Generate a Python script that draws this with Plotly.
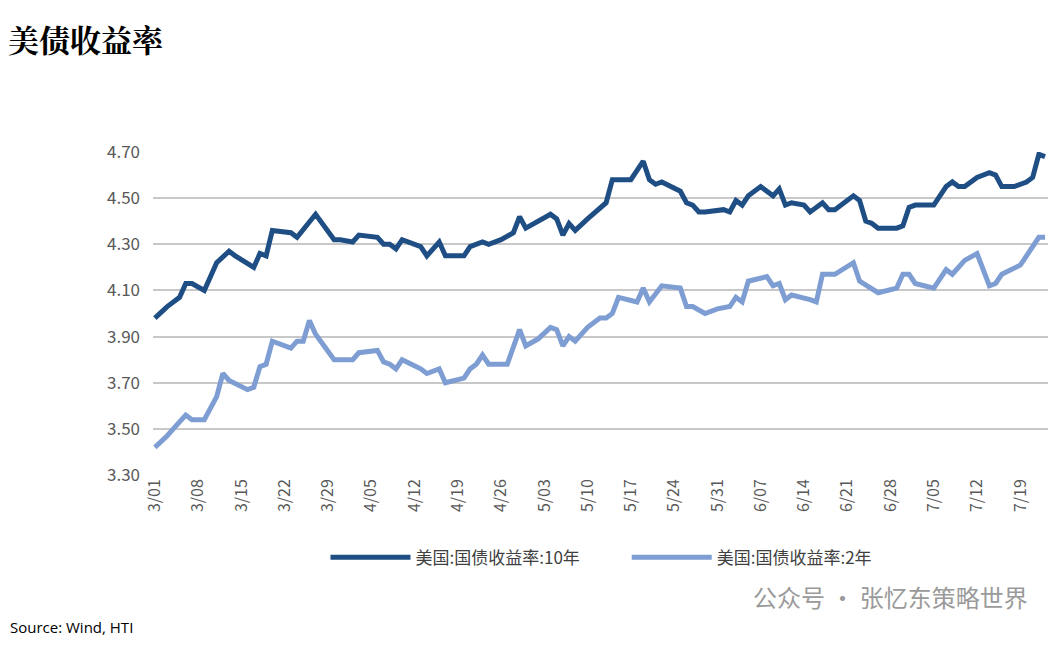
import plotly.graph_objects as go
import pandas as pd

start = "2024-03-01"
days10 = [0,2,4,5,6,8,10,12,13,16,17,18,19,22,23,25,26,29,30,32,33,36,37,38,39,40,43,44,46,47,50,51,53,54,56,58,59,60,62,64,65,66,67,68,70,72,73,74,77,79,80,81,82,85,86,87,88,89,92,93,94,95,96,98,100,101,102,103,105,106,108,109,110,113,114,115,116,117,120,121,122,123,124,126,128,129,130,131,133,135,136,137,139,141,142,143,144]
y10 = [3.98,4.03,4.07,4.13,4.13,4.10,4.22,4.27,4.25,4.20,4.26,4.25,4.36,4.35,4.33,4.40,4.43,4.32,4.32,4.31,4.34,4.33,4.30,4.30,4.28,4.32,4.29,4.25,4.31,4.25,4.25,4.29,4.31,4.30,4.32,4.35,4.42,4.37,4.40,4.43,4.41,4.34,4.39,4.36,4.41,4.46,4.48,4.58,4.58,4.66,4.58,4.56,4.57,4.53,4.48,4.47,4.44,4.44,4.45,4.44,4.49,4.47,4.51,4.55,4.51,4.54,4.47,4.48,4.47,4.44,4.48,4.45,4.45,4.51,4.49,4.40,4.39,4.37,4.37,4.38,4.46,4.47,4.47,4.47,4.55,4.57,4.55,4.55,4.59,4.61,4.60,4.55,4.55,4.57,4.59,4.69,4.68]

days2 = [0,2,4,5,6,8,10,11,12,15,16,17,18,19,22,23,24,25,26,29,32,33,36,37,38,39,40,43,44,46,47,50,51,52,53,54,57,59,60,62,64,65,66,67,68,70,72,73,74,75,78,79,80,82,85,86,87,89,91,93,94,95,96,98,99,100,101,102,103,106,107,108,110,113,114,117,120,121,122,123,126,128,129,131,133,135,136,137,140,143,144]
y2 = [3.42,3.47,3.53,3.56,3.54,3.54,3.64,3.74,3.71,3.67,3.68,3.77,3.78,3.88,3.85,3.88,3.88,3.97,3.91,3.80,3.80,3.83,3.84,3.79,3.78,3.76,3.80,3.76,3.74,3.76,3.70,3.72,3.76,3.78,3.82,3.78,3.78,3.93,3.86,3.89,3.94,3.93,3.86,3.90,3.88,3.94,3.98,3.98,4.00,4.07,4.05,4.11,4.05,4.12,4.11,4.03,4.03,4.00,4.02,4.03,4.07,4.05,4.14,4.15,4.16,4.12,4.13,4.06,4.08,4.06,4.05,4.17,4.17,4.22,4.14,4.09,4.11,4.17,4.17,4.13,4.11,4.19,4.17,4.23,4.26,4.12,4.13,4.17,4.21,4.33,4.33]

tick_labels = ["3/01","3/08","3/15","3/22","3/29","4/05","4/12","4/19","4/26","5/03","5/10","5/17","5/24","5/31","6/07","6/14","6/21","6/28","7/05","7/12","7/19"]
y_ticks = [3.30,3.50,3.70,3.90,4.10,4.30,4.50,4.70]

s = pd.Timestamp(start)
x10 = [s + pd.Timedelta(days=d) for d in days10]
x2 = [s + pd.Timedelta(days=d) for d in days2]
tickvals = [s + pd.Timedelta(days=7*i) for i in range(len(tick_labels))]

fig = go.Figure()
fig.add_trace(go.Scatter(x=x10, y=y10, mode="lines", name="美国:国债收益率:10年&nbsp;&nbsp;&nbsp;&nbsp;&nbsp;&nbsp;&nbsp;&nbsp;&nbsp;&nbsp;&nbsp;",
                         line=dict(color="#1F4E85", width=5)))
fig.add_trace(go.Scatter(x=x2, y=y2, mode="lines", name="美国:国债收益率:2年",
                         line=dict(color="#7E9ED3", width=5)))

font = "Noto Sans CJK SC"
W, H = 895, 323
fig.update_layout(
    width=1056, height=648, paper_bgcolor="white", plot_bgcolor="white",
    margin=dict(l=145, r=14, t=144, b=181),
    font=dict(family=font, color="#595959"),
    showlegend=True,
    legend=dict(orientation="h", x=0.5, xanchor="center", y=-0.2, yanchor="top",
                font=dict(size=17, color="#404040"), itemwidth=80, tracegroupgap=0),
    xaxis=dict(type="date", range=[s - pd.Timedelta(days=0.3), s + pd.Timedelta(days=144.8)],
               tickvals=tickvals, ticktext=tick_labels, tickangle=-90,
               tickfont=dict(size=16, color="#595959"), showgrid=False,
               showline=False, zeroline=False, ticks=""),
    yaxis=dict(range=[3.30, 4.70], tickvals=y_ticks, ticktext=[f"{v:.2f}" for v in y_ticks],
               tickfont=dict(size=17, color="#595959"), showgrid=True, gridcolor="#C8C8C8",
               gridwidth=1.5, zeroline=False, showline=False, ticklabelstandoff=12),
)
fig.add_annotation(text="<b>美债收益率</b>", xref="paper", yref="paper", x=-147/W, y=1+138/H,
                   xanchor="left", yanchor="top", showarrow=False,
                   font=dict(size=31, color="#000000", family="Noto Serif CJK SC, Noto Sans CJK SC"))
fig.add_annotation(text="Source: Wind, HTI", xref="paper", yref="paper", x=-145/W, y=-152/H,
                   xanchor="left", yanchor="middle", showarrow=False,
                   font=dict(size=15, color="#000000", family="Open Sans"))
fig.add_annotation(text="公众号 · 张忆东策略世界", xref="paper", yref="paper", x=1-20/W, y=-121/H,
                   xanchor="right", yanchor="middle", showarrow=False,
                   font=dict(size=24, color="#9A9A9A", family=font))
fig.write_html("out.html")
